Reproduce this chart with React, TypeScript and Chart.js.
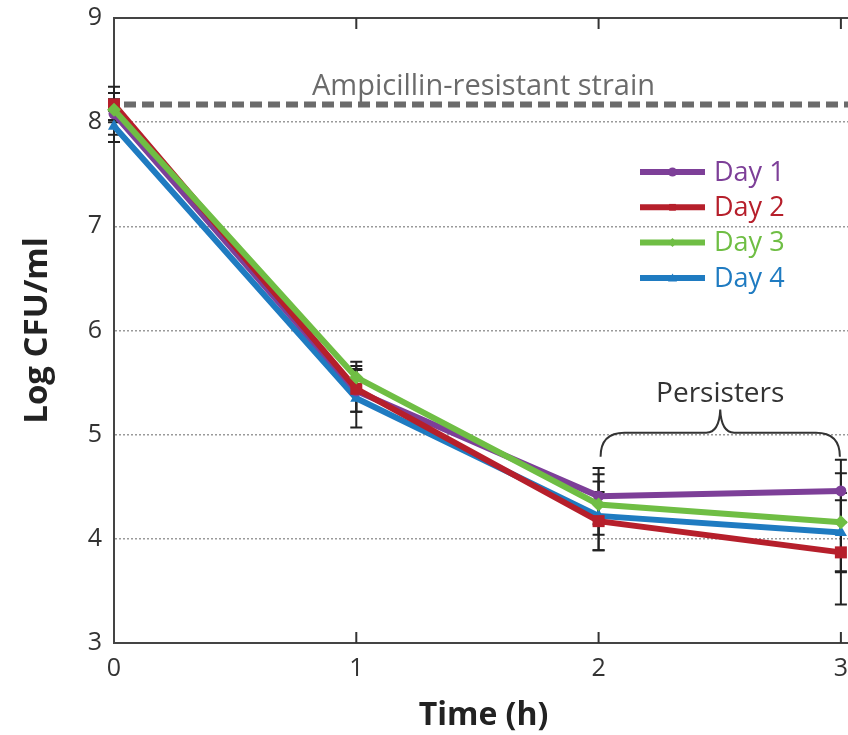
import React, { useEffect, useRef } from 'react';
import { Chart, registerables } from 'chart.js';

Chart.register(...registerables);

// ---- data ----
const timePoints = [0, 1, 2, 3];
const seriesLabels = ['Day 1', 'Day 2', 'Day 3', 'Day 4'];
const day1 = [8.08, 5.42, 4.41, 4.46];
const day2 = [8.17, 5.44, 4.17, 3.87];
const day3 = [8.12, 5.55, 4.33, 4.16];
const day4 = [7.96, 5.35, 4.22, 4.06];
const day1Err = [0.2, 0.2, 0.27, 0.3];
const day2Err = [0.17, 0.22, 0.28, 0.5];
const day3Err = [0.1, 0.15, 0.29, 0.47];
const day4Err = [0.15, 0.28, 0.33, 0.38];
const yTicks = [3, 4, 5, 6, 7, 8, 9];
const xTicks = [0, 1, 2, 3];
const resistantLevel = 8.17;
const resistantLabel = 'Ampicillin-resistant strain';
const persistersLabel = 'Persisters';
const persistersFrom = 2;
const persistersTo = 3;

const seriesValues = [day1, day2, day3, day4];
const seriesErrors = [day1Err, day2Err, day3Err, day4Err];
const seriesColors = ['#7D3F98', '#B61F2B', '#6FBE44', '#1F7BC1'];
const pointStyles = ['circle', 'rect', 'rectRot', 'triangle'];
const pointRadii = [5.5, 8.5, 7, 7];
const drawOrder = [2, 1, 0, 3];

const FONT = '"Open Sans", sans-serif';

function drawMarker(ctx: CanvasRenderingContext2D, style: string, x: number, y: number, r: number) {
  ctx.beginPath();
  if (style === 'circle') {
    ctx.arc(x, y, r, 0, Math.PI * 2);
  } else if (style === 'rect') {
    ctx.rect(x - r * 0.75, y - r * 0.75, r * 1.5, r * 1.5);
  } else if (style === 'rectRot') {
    ctx.moveTo(x, y - r);
    ctx.lineTo(x + r, y);
    ctx.lineTo(x, y + r);
    ctx.lineTo(x - r, y);
    ctx.closePath();
  } else {
    ctx.moveTo(x, y - r);
    ctx.lineTo(x + r, y + r * 0.8);
    ctx.lineTo(x - r, y + r * 0.8);
    ctx.closePath();
  }
  ctx.fill();
}

const overlayPlugin = {
  id: 'overlay',
  beforeDatasetsDraw(chart: any) {
    const { ctx, chartArea: a, scales } = chart;
    const x = scales.x;
    const y = scales.y;
    ctx.save();
    // top frame line
    ctx.strokeStyle = '#444';
    ctx.lineWidth = 2;
    ctx.beginPath();
    ctx.moveTo(a.left - 1, a.top);
    ctx.lineTo(a.right, a.top);
    ctx.stroke();
    // inward ticks top and bottom
    ctx.strokeStyle = '#333';
    for (const v of xTicks) {
      if (v === 0) continue;
      const px = x.getPixelForValue(v);
      ctx.beginPath();
      ctx.moveTo(px, a.top);
      ctx.lineTo(px, a.top + 11);
      ctx.moveTo(px, a.bottom);
      ctx.lineTo(px, a.bottom - 11);
      ctx.stroke();
    }
    // reference dashed line
    const ry = y.getPixelForValue(resistantLevel);
    ctx.strokeStyle = '#6b6b6b';
    ctx.lineWidth = 6;
    ctx.setLineDash([12, 6]);
    ctx.beginPath();
    ctx.moveTo(x.getPixelForValue(0) + 10, ry);
    ctx.lineTo(a.right, ry);
    ctx.stroke();
    ctx.setLineDash([]);
    ctx.fillStyle = '#6b6b6b';
    ctx.font = `29px ${FONT}`;
    ctx.textAlign = 'center';
    ctx.textBaseline = 'alphabetic';
    ctx.fillText(resistantLabel, (a.left + a.right) / 2, ry - 9);

    // brace
    const xa = x.getPixelForValue(persistersFrom) + 2;
    const xb = x.getPixelForValue(persistersTo) - 1;
    const mid = (xa + xb) / 2;
    const yb = y.getPixelForValue(5) - 2;
    ctx.strokeStyle = '#333';
    ctx.lineWidth = 2;
    ctx.beginPath();
    ctx.moveTo(xa, yb + 24);
    ctx.quadraticCurveTo(xa, yb, xa + 24, yb);
    ctx.lineTo(mid - 14, yb);
    ctx.quadraticCurveTo(mid - 1, yb, mid, yb - 23);
    ctx.quadraticCurveTo(mid + 1, yb, mid + 14, yb);
    ctx.lineTo(xb - 24, yb);
    ctx.quadraticCurveTo(xb, yb, xb, yb + 24);
    ctx.stroke();
    ctx.fillStyle = '#333';
    ctx.font = `28px ${FONT}`;
    ctx.textAlign = 'center';
    ctx.fillText(persistersLabel, mid, yb - 31);

    // error bars
    ctx.strokeStyle = '#222';
    ctx.lineWidth = 2;
    seriesValues.forEach((vals, i) => {
      vals.forEach((v, j) => {
        const e = seriesErrors[i][j];
        const px = x.getPixelForValue(timePoints[j]);
        const y1 = y.getPixelForValue(v + e);
        const y2 = y.getPixelForValue(v - e);
        ctx.beginPath();
        ctx.moveTo(px, y1);
        ctx.lineTo(px, y2);
        ctx.moveTo(px - 6, y1);
        ctx.lineTo(px + 6, y1);
        ctx.moveTo(px - 6, y2);
        ctx.lineTo(px + 6, y2);
        ctx.stroke();
      });
    });
    ctx.restore();
  },
  afterDatasetsDraw(chart: any) {
    const { ctx, chartArea: a } = chart;
    ctx.save();
    const x0 = a.left + 526;
    const x1 = a.left + 591;
    seriesLabels.forEach((label, i) => {
      const yy = a.top + 154 + i * 35.3;
      ctx.strokeStyle = seriesColors[i];
      ctx.fillStyle = seriesColors[i];
      ctx.lineWidth = 6;
      ctx.beginPath();
      ctx.moveTo(x0, yy);
      ctx.lineTo(x1, yy);
      ctx.stroke();
      drawMarker(ctx, pointStyles[i], (x0 + x1) / 2, yy, 4.5);
      ctx.font = `27px ${FONT}`;
      ctx.textAlign = 'left';
      ctx.textBaseline = 'middle';
      ctx.fillText(label, x1 + 9, yy + 1);
    });
    ctx.restore();
  },
};

export default function App() {
  const ref = useRef<HTMLCanvasElement>(null);
  useEffect(() => {
    document.body.style.margin = '0';
    const canvas = ref.current;
    if (!canvas) return;
    const chart = new Chart(canvas, {
      type: 'line',
      data: {
        datasets: seriesLabels.map((label, i) => ({
          label,
          data: timePoints.map((t, j) => ({ x: t, y: seriesValues[i][j] })),
          borderColor: seriesColors[i],
          backgroundColor: seriesColors[i],
          pointBackgroundColor: seriesColors[i],
          pointBorderColor: seriesColors[i],
          pointBorderWidth: 0,
          borderWidth: 6,
          pointStyle: pointStyles[i] as any,
          pointRadius: pointRadii[i],
          tension: 0,
          order: drawOrder[i],
          clip: false as any,
        })),
      },
      options: {
        animation: false,
        responsive: false,
        maintainAspectRatio: false,
        layout: { padding: { left: 0, top: 18, right: 17, bottom: 0 } },
        plugins: { legend: { display: false }, tooltip: { enabled: false } },
        scales: {
          x: {
            type: 'linear',
            min: 0,
            max: 3.05,
            afterBuildTicks: (s: any) => {
              s.ticks = xTicks.map((v) => ({ value: v }));
            },
            afterFit: (s: any) => {
              s.height = 92;
              s.paddingLeft = 0;
              s.paddingRight = 0;
            },
            grid: { display: false, drawTicks: false },
            border: { display: true, color: '#444', width: 2 },
            ticks: {
              font: { family: FONT, size: 25 },
              color: '#333',
              padding: 11,
              maxRotation: 0,
              autoSkip: false,
            },
            title: {
              display: true,
              text: 'Time (h)',
              font: { family: FONT, size: 32, weight: 'bold' },
              color: '#222',
              padding: { top: 0, bottom: 0 },
            },
          },
          y: {
            type: 'linear',
            min: 3,
            max: 9,
            afterBuildTicks: (s: any) => {
              s.ticks = yTicks.map((v) => ({ value: v }));
            },
            afterFit: (s: any) => {
              s.width = 114;
              s.paddingTop = 0;
              s.paddingBottom = 0;
            },
            grid: {
              color: (c: any) =>
                c.tick && (c.tick.value === 3 || c.tick.value === 9) ? 'rgba(0,0,0,0)' : '#9a9a9a',
              lineWidth: 1.5,
              drawTicks: false,
            },
            border: { display: true, color: '#444', width: 2, dash: [2, 2] },
            ticks: {
              font: { family: FONT, size: 25 },
              color: '#333',
              padding: 12,
            },
            title: {
              display: true,
              text: 'Log CFU/ml',
              font: { family: FONT, size: 33, weight: 'bold' },
              color: '#222',
              padding: { top: 18, bottom: 0 },
            },
          },
        },
      },
      plugins: [overlayPlugin],
    });
    return () => chart.destroy();
  }, []);
  return (
    <div style={{ width: 848, height: 735, overflow: 'hidden', position: 'relative' }}>
      <canvas ref={ref} width={870} height={735} style={{ width: 870, height: 735, display: 'block' }} />
    </div>
  );
}
